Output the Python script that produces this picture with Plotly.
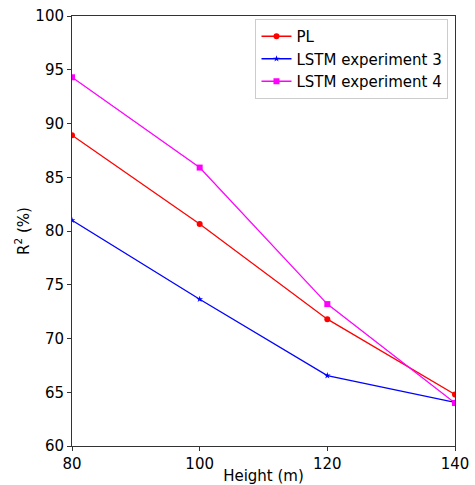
import plotly.graph_objects as go

heights = [80, 100, 120, 140]
pl = [88.9, 80.65, 71.8, 64.8]
lstm3 = [81.0, 73.65, 66.55, 64.05]
lstm4 = [94.3, 85.9, 73.2, 64.0]

font = "DejaVu Sans"

fig = go.Figure()
fig.add_trace(go.Scatter(x=heights, y=pl, name="PL", mode="lines+markers",
                         line=dict(color="red", width=1.3),
                         marker=dict(symbol="circle", size=6, color="red")))
fig.add_trace(go.Scatter(x=heights, y=lstm3, name="LSTM experiment 3", mode="lines+markers",
                         line=dict(color="blue", width=1.3),
                         marker=dict(symbol="star", size=5, color="blue")))
fig.add_trace(go.Scatter(x=heights, y=lstm4, name="LSTM experiment 4", mode="lines+markers",
                         line=dict(color="magenta", width=1.3),
                         marker=dict(symbol="square", size=6, color="magenta")))

axis_common = dict(showgrid=False, zeroline=False, showline=True, linecolor="#333333",
                   linewidth=1, mirror=True, ticks="outside", ticklen=4, automargin=False,
                   tickcolor="#333333", tickfont=dict(family=font, size=15, color="black"))

fig.update_layout(
    width=475, height=485,
    margin=dict(l=72, r=20, t=16, b=39),
    paper_bgcolor="white", plot_bgcolor="white",
    font=dict(family=font, color="black"),
    xaxis=dict(range=[80, 140], tickvals=[80, 100, 120, 140],
               title=dict(text="Height (m)", font=dict(family=font, size=15), standoff=0),
               **axis_common),
    yaxis=dict(range=[60, 100], tickvals=list(range(60, 101, 5)),
               title=dict(text="R<sup>2</sup> (%)", font=dict(family=font, size=15), standoff=2),
               **axis_common),
    legend=dict(x=0.983, y=0.993, xanchor="right", yanchor="top",
                bgcolor="rgba(255,255,255,0.8)", bordercolor="#cccccc", borderwidth=1,
                font=dict(family=font, size=15), tracegroupgap=0),
    showlegend=True,
)

fig.write_html("out.html")
